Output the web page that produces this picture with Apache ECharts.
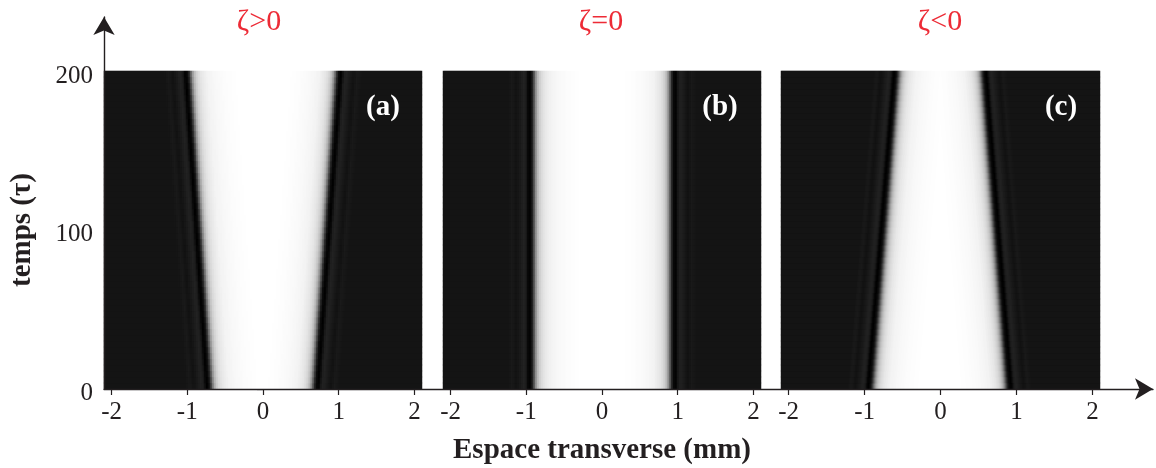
<!DOCTYPE html>
<html><head><meta charset="utf-8">
<style>html,body{margin:0;padding:0;background:#fff}#c{width:1156px;height:468px}</style>
<script src="https://cdn.jsdelivr.net/npm/echarts@6/dist/echarts.min.js"></script>
</head><body><div id="c"></div>
<script>
// tick labels
const xTicks = [-2, -1, 0, 1, 2];
const yTicks = [0, 100, 200];
const panelTitles = ['ζ>0', 'ζ=0', 'ζ<0'];
const panelLetters = ['(a)', '(b)', '(c)'];
// intensity profile across a beam edge: distance inward from the half-intensity point (mm) -> intensity
const profileOffset = [-0.70,-0.36,-0.30,-0.25,-0.20,-0.15,-0.12,-0.10,-0.08,-0.05,-0.03,-0.01,0.01,0.03,0.05,0.08,0.12,0.20,0.32,0.45,0.60];
const profileValue  = [0.08,0.08,0.10,0.07,0.10,0.135,0.11,0.04,0.0,0.05,0.18,0.38,0.57,0.70,0.78,0.85,0.90,0.95,0.975,0.99,1.0];
// edge positions (mm) read per time row
const timeRows = [2,6,10,13,17,21,25,29,32,36,40,44,48,51,55,59,63,67,70,74,78,82,85,89,93,97,101,104,108,112,116,120,123,127,131,135,139,142,146,150,154,158,161,165,169,173,177,180,184,188,192,196,199];
const aLeft = [-0.660,-0.665,-0.671,-0.676,-0.682,-0.687,-0.692,-0.698,-0.703,-0.708,-0.714,-0.719,-0.725,-0.730,-0.735,-0.741,-0.746,-0.752,-0.757,-0.762,-0.768,-0.773,-0.778,-0.784,-0.789,-0.795,-0.800,-0.805,-0.811,-0.816,-0.822,-0.827,-0.832,-0.838,-0.843,-0.848,-0.854,-0.859,-0.865,-0.870,-0.875,-0.881,-0.886,-0.892,-0.897,-0.902,-0.908,-0.913,-0.918,-0.924,-0.929,-0.935,-0.940];
const aRight = [0.650,0.656,0.662,0.667,0.673,0.679,0.685,0.690,0.696,0.702,0.708,0.713,0.719,0.725,0.731,0.737,0.742,0.748,0.754,0.760,0.765,0.771,0.777,0.783,0.788,0.794,0.800,0.806,0.812,0.817,0.823,0.829,0.835,0.840,0.846,0.852,0.858,0.863,0.869,0.875,0.881,0.887,0.892,0.898,0.904,0.910,0.915,0.921,0.927,0.933,0.938,0.944,0.950];
const bLeft = [-0.88,-0.88,-0.88,-0.88,-0.88,-0.88,-0.88,-0.88,-0.88,-0.88,-0.88,-0.88,-0.88,-0.88,-0.88,-0.88,-0.88,-0.88,-0.88,-0.88,-0.88,-0.88,-0.88,-0.88,-0.88,-0.88,-0.88,-0.88,-0.88,-0.88,-0.88,-0.88,-0.88,-0.88,-0.88,-0.88,-0.88,-0.88,-0.88,-0.88,-0.88,-0.88,-0.88,-0.88,-0.88,-0.88,-0.88,-0.88,-0.88,-0.88,-0.88,-0.88,-0.88];
const bRight = [0.89,0.89,0.89,0.89,0.89,0.89,0.89,0.89,0.89,0.89,0.89,0.89,0.89,0.89,0.89,0.89,0.89,0.89,0.89,0.89,0.89,0.89,0.89,0.89,0.89,0.89,0.89,0.89,0.89,0.89,0.89,0.89,0.89,0.89,0.89,0.89,0.89,0.89,0.89,0.89,0.89,0.89,0.89,0.89,0.89,0.89,0.89,0.89,0.89,0.89,0.89,0.89,0.89];
const cLeft = [-0.870,-0.863,-0.857,-0.850,-0.844,-0.837,-0.831,-0.824,-0.818,-0.811,-0.805,-0.798,-0.792,-0.785,-0.778,-0.772,-0.765,-0.759,-0.752,-0.746,-0.739,-0.733,-0.726,-0.720,-0.713,-0.707,-0.700,-0.693,-0.687,-0.680,-0.674,-0.667,-0.661,-0.654,-0.648,-0.641,-0.635,-0.628,-0.622,-0.615,-0.608,-0.602,-0.595,-0.589,-0.582,-0.576,-0.569,-0.563,-0.556,-0.550,-0.543,-0.537,-0.530];
const cRight = [0.850,0.844,0.838,0.831,0.825,0.819,0.813,0.806,0.800,0.794,0.788,0.781,0.775,0.769,0.763,0.756,0.750,0.744,0.738,0.731,0.725,0.719,0.713,0.706,0.700,0.694,0.688,0.681,0.675,0.669,0.663,0.656,0.650,0.644,0.638,0.631,0.625,0.619,0.613,0.606,0.600,0.594,0.588,0.581,0.575,0.569,0.563,0.556,0.550,0.544,0.538,0.531,0.525];
const edges = [[aLeft, aRight], [bLeft, bRight], [cLeft, cRight]];

const XMIN = -2.1, XMAX = 2.1, YMIN = 0, YMAX = 201;
const FONT = '"Liberation Serif","Times New Roman",serif';
const INK = '#231f20';
const panels = [
  {left: 104, width: 318, cols: 159, titleX: 259, letterX: 383},
  {left: 443, width: 318, cols: 159, titleX: 601, letterX: 720},
  {left: 781, width: 319, cols: 319, titleX: 940, letterX: 1061}
];
const TOP = 71, H = 318;

function lookup(d) {
  const n = profileOffset.length;
  if (d <= profileOffset[0]) return profileValue[0];
  if (d >= profileOffset[n - 1]) return profileValue[n - 1];
  for (let k = 1; k < n; k++) {
    if (d <= profileOffset[k]) {
      const f = (d - profileOffset[k - 1]) / (profileOffset[k] - profileOffset[k - 1]);
      return profileValue[k - 1] + f * (profileValue[k] - profileValue[k - 1]);
    }
  }
}
function columnCentres(n) {
  const out = [];
  for (let i = 0; i < n; i++) out.push(XMIN + (i + 0.5) * (XMAX - XMIN) / n);
  return out;
}
function cells(p, xs) {
  const [L, R] = edges[p], out = [];
  timeRows.forEach((t, r) => {
    xs.forEach((x, c) => {
      out.push([c, r, +lookup(Math.min(x - L[r], R[r] - x)).toFixed(3)]);
    });
  });
  return out;
}

const grid = [], xAxis = [], yAxis = [], series = [], title = [];
panels.forEach((g, p) => {
  const xs = columnCentres(g.cols);
  grid.push({left: g.left, top: TOP, width: g.width, height: H, outerBoundsMode: 'none'});
  xAxis.push({
    type: 'value', gridIndex: p, min: XMIN, max: XMAX, position: 'bottom',
    axisLine: {show: false}, splitLine: {show: false},
    axisTick: {show: true, length: 6, customValues: xTicks, lineStyle: {color: INK, width: 1.2}},
    axisLabel: {show: true, customValues: xTicks, color: INK, fontFamily: FONT, fontSize: 25, margin: 11},
    name: p === 1 ? 'Espace transverse (mm)' : '', nameLocation: 'middle', nameGap: 47,
    nameTextStyle: {color: INK, fontFamily: FONT, fontWeight: 'bold', fontSize: 29}
  });
  xAxis.push({type: 'category', gridIndex: p, data: xs.map((v, i) => i), show: false, position: 'top'});
  yAxis.push({
    type: 'value', gridIndex: p, min: YMIN, max: YMAX, show: p === 0,
    axisLine: {show: false}, splitLine: {show: false},
    axisTick: {show: true, length: 6, customValues: yTicks, lineStyle: {color: INK, width: 1.2}},
    axisLabel: {
      customValues: yTicks, margin: 11, formatter: '{n|{value}}',
      rich: {n: {color: INK, fontFamily: FONT, fontSize: 25, padding: [8, 0, 0, 0]}}
    },
    name: p === 0 ? 'temps (τ)' : '', nameLocation: 'middle', nameGap: 67,
    nameTextStyle: {color: INK, fontFamily: FONT, fontWeight: 'bold', fontSize: 29}
  });
  yAxis.push({type: 'category', gridIndex: p, data: timeRows, show: false, position: 'right'});
  series.push({
    type: 'heatmap', xAxisIndex: 2 * p + 1, yAxisIndex: 2 * p + 1,
    data: cells(p, xs), silent: true, progressive: 0, animation: false,
    itemStyle: {borderWidth: 0}
  });
  title.push({
    text: panelTitles[p], left: g.titleX, top: 7, textAlign: 'center', padding: 0,
    textStyle: {color: '#ed2b36', fontFamily: FONT, fontWeight: 'normal', fontSize: 30}
  });
  title.push({
    text: panelLetters[p], left: g.letterX, top: 93, textAlign: 'center', padding: 0,
    textStyle: {color: '#ffffff', fontFamily: FONT, fontWeight: 'bold', fontSize: 29}
  });
});

// long axis arrows that run across all the panels
grid.push({left: 104, top: 17, width: 1049, height: 372, outerBoundsMode: 'none'});
const arrow = {show: true, symbol: ['none', 'arrow'], symbolSize: [16, 18], lineStyle: {color: INK, width: 1.4}};
xAxis.push({type: 'value', gridIndex: 3, min: 0, max: 1, axisLine: arrow, axisTick: {show: false}, axisLabel: {show: false}, splitLine: {show: false}, z: 10});
yAxis.push({type: 'value', gridIndex: 3, min: 0, max: 1, axisLine: arrow, axisTick: {show: false}, axisLabel: {show: false}, splitLine: {show: false}, z: 10});

const chart = echarts.init(document.getElementById('c'), null, {renderer: 'canvas'});
chart.setOption({
  animation: false,
  backgroundColor: '#ffffff',
  title, grid, xAxis, yAxis, series,
  visualMap: {
    show: false, type: 'continuous', min: 0, max: 1, seriesIndex: [0, 1, 2],
    inRange: {color: ['#000000', '#ffffff']}
  }
});
</script></body></html>
